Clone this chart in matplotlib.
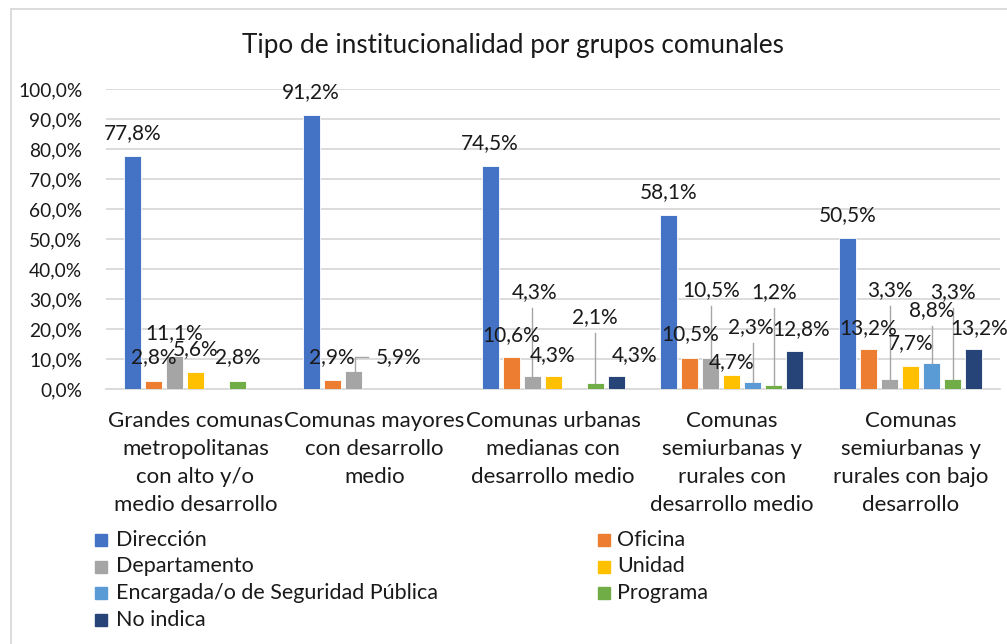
import numpy as np
import matplotlib
matplotlib.use("Agg")
import matplotlib.pyplot as plt
from matplotlib.lines import Line2D

plt.rcParams['font.family'] = ['Lato', 'DejaVu Sans']

# ---------------- data ----------------
categories = [
    "Grandes comunas\nmetropolitanas\ncon alto y/o\nmedio desarrollo",
    "Comunas mayores\ncon desarrollo\nmedio",
    "Comunas urbanas\nmedianas con\ndesarrollo medio",
    "Comunas\nsemiurbanas y\nrurales con\ndesarrollo medio",
    "Comunas\nsemiurbanas y\nrurales con bajo\ndesarrollo",
]
series_names = ["Dirección", "Oficina", "Departamento", "Unidad",
                "Encargada/o de Seguridad Pública", "Programa", "No indica"]
nan = np.nan
direccion    = [77.8, 91.2, 74.5, 58.1, 50.5]
oficina      = [2.8, 2.9, 10.6, 10.5, 13.2]
departamento = [11.1, 5.9, 4.3, 10.5, 3.3]
unidad       = [5.6, nan, 4.3, 4.7, 7.7]
encargada    = [nan, nan, nan, 2.3, 8.8]
programa     = [2.8, nan, 2.1, 1.2, 3.3]
no_indica    = [nan, nan, 4.3, 12.8, 13.2]
values = [direccion, oficina, departamento, unidad, encargada, programa, no_indica]

colors = ["#4472C4", "#ED7D31", "#A5A5A5", "#FFC000", "#5B9BD5", "#70AD47", "#264478"]

# label placement (centre height in data units, horizontal shift in px)
label_y = [
    [85.3, 99.0, 82.0, 65.7, 58.0],
    [10.7, 10.7, 18.0, 18.3, 20.3],
    [18.7, 10.7, 32.3, 33.0, 33.0],
    [13.3, nan, 11.3, 9.0, 15.3],
    [nan, nan, nan, 20.7, 26.3],
    [10.7, nan, 24.0, 32.3, 32.3],
    [nan, nan, 11.3, 20.0, 20.3],
]
label_dx = {(2, 1): 45, (2, 2): 3, (6, 2): 19, (6, 3): 6, (6, 4): 6,
            (4, 3): -2}
leaders = [(2, 2), (5, 2), (2, 3), (4, 3), (5, 3), (2, 4), (4, 4), (5, 4)]
elbow_leaders = [(2, 1)]

# ---------------- figure ----------------
W, H = 1007, 644
fig = plt.figure(figsize=(W / 100, H / 100), dpi=100)
ax_l, ax_r, ax_t, ax_b = 106, 1000, 89, 389
ax = fig.add_axes([ax_l / W, 1 - ax_b / H, (ax_r - ax_l) / W, (ax_b - ax_t) / H])

n_cat = len(categories)
n_ser = len(series_names)
x = np.arange(n_cat)
px_per_unit = (ax_r - ax_l) / n_cat
slot = 21 / px_per_unit
bw = 17 / px_per_unit

for j, (vals, col) in enumerate(zip(values, colors)):
    v = np.array(vals, dtype=float)
    xpos = x + (j - (n_ser - 1) / 2) * slot
    ax.bar(xpos, np.nan_to_num(v), width=bw, color=col, edgecolor='white',
           linewidth=0.6, zorder=3)

txt_col = '#1a1a1a'
ax.set_xlim(-0.5, n_cat - 0.5)
ax.set_ylim(0, 100)
ax.set_yticks(np.arange(0, 101, 10))
ax.set_yticklabels([f"{t:.1f}%".replace('.', ',') for t in np.arange(0, 101, 10)],
                   fontsize=13.8, color=txt_col)
ax.set_xticks(x)
ax.set_xticklabels(categories, fontsize=16, color=txt_col, linespacing=1.5,
                   va='top', ha='center', multialignment='center')
ax.tick_params(axis='y', length=0, pad=17)
ax.tick_params(axis='x', length=0, pad=16)
ax.grid(axis='y', color='#D9D9D9', linewidth=1.3, zorder=0)
for s in ['top', 'right', 'left']:
    ax.spines[s].set_visible(False)
ax.spines['bottom'].set_color('#D9D9D9')
ax.spines['bottom'].set_linewidth(1.3)

# data labels
lead_col = '#A6A6A6'
off_data = 5.4  # distance between label centre and leader top
for j in range(n_ser):
    for k in range(n_cat):
        v = values[j][k]
        ly = label_y[j][k]
        if np.isnan(v) or np.isnan(ly):
            continue
        bx = x[k] + (j - (n_ser - 1) / 2) * slot
        lx = bx + label_dx.get((j, k), 0) / px_per_unit
        ax.text(lx, ly, f"{v:.1f}%".replace('.', ','), ha='center', va='center',
                fontsize=15, color=txt_col, zorder=5)
        if (j, k) in leaders:
            ax.plot([bx, bx], [v, ly - off_data], color=lead_col, lw=1, zorder=4)
        if (j, k) in elbow_leaders:
            ax.plot([bx + 2 / px_per_unit, bx + 2 / px_per_unit,
                     lx - 30 / px_per_unit],
                    [v, ly, ly], color=lead_col, lw=1, zorder=4)

# title
fig.text(513 / W, 1 - 45 / H, "Tipo de institucionalidad por grupos comunales",
         ha='center', va='center', fontsize=18.8, color=txt_col)

# legend (two columns, manually positioned)
rows = [540, 566.5, 593, 619.5]
col_x = [(95, 116), (598, 617)]
for j, name in enumerate(series_names):
    r = j // 2
    c = j % 2
    mx, tx = col_x[c]
    ybox = rows[r]
    fig.patches.append(plt.Rectangle((mx / W, 1 - (ybox + 6) / H), 12 / W, 12 / H,
                                     transform=fig.transFigure, color=colors[j]))
    fig.text(tx / W, 1 - ybox / H, name, ha='left', va='center', fontsize=15.5,
             color=txt_col)

# chart border
fig.add_artist(Line2D([11 / W, 1], [1 - 9 / H, 1 - 9 / H], transform=fig.transFigure,
                      color='#D9D9D9', lw=1.3))
fig.add_artist(Line2D([11 / W, 11 / W], [0, 1 - 9 / H], transform=fig.transFigure,
                      color='#D9D9D9', lw=1.3))

fig.savefig("out.png", dpi=100, facecolor='white')
